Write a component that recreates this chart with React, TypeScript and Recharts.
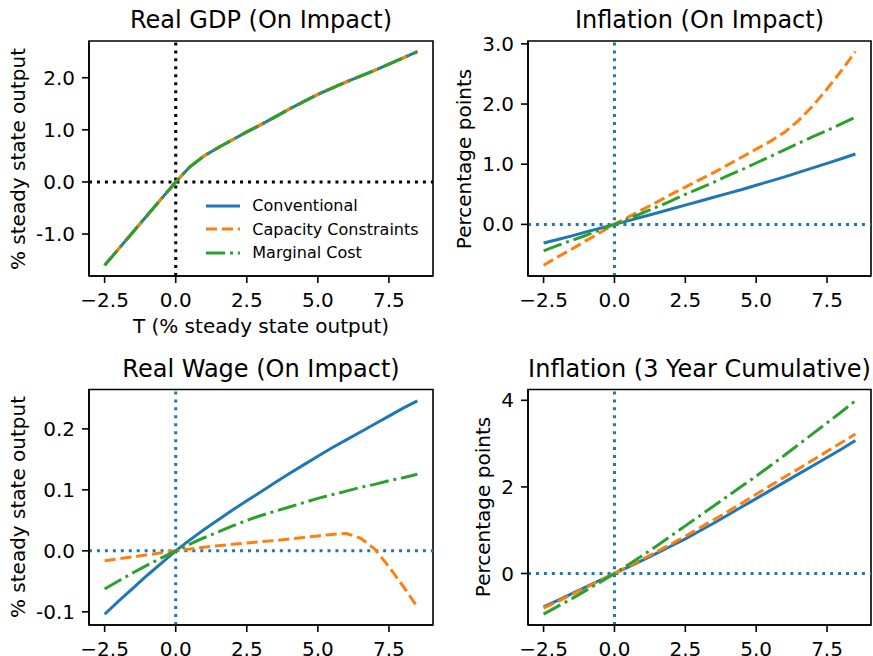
import React from "react";
import { LineChart, Line, XAxis, YAxis, ReferenceLine, ReferenceArea, Legend } from "recharts";

// T (% steady state output)
const tValues = [-2.5, -2, -1.5, -1, -0.5, 0, 0.5, 1, 1.5, 2, 2.5, 3, 3.5, 4, 4.5, 5, 5.5, 6, 6.5, 7, 7.5, 8, 8.5];

// Real GDP (on impact) - all three models coincide
const gdpConventional = [-1.6, -1.28, -0.96, -0.64, -0.32, 0, 0.29, 0.5, 0.66, 0.81, 0.96, 1.1, 1.25, 1.4, 1.54, 1.68, 1.8, 1.92, 2.03, 2.14, 2.26, 2.38, 2.5];
const gdpCapacity = [-1.6, -1.28, -0.96, -0.64, -0.32, 0, 0.29, 0.5, 0.66, 0.81, 0.96, 1.1, 1.25, 1.4, 1.54, 1.68, 1.8, 1.92, 2.03, 2.14, 2.26, 2.38, 2.5];
const gdpMarginal = [-1.6, -1.28, -0.96, -0.64, -0.32, 0, 0.29, 0.5, 0.66, 0.81, 0.96, 1.1, 1.25, 1.4, 1.54, 1.68, 1.8, 1.92, 2.03, 2.14, 2.26, 2.38, 2.5];

// Inflation (on impact)
const inflConventional = [-0.31, -0.25, -0.19, -0.125, -0.063, 0, 0.063, 0.127, 0.19, 0.255, 0.32, 0.385, 0.45, 0.515, 0.58, 0.65, 0.72, 0.79, 0.865, 0.94, 1.015, 1.09, 1.17];
const inflCapacity = [-0.68, -0.54, -0.41, -0.27, -0.135, 0, 0.125, 0.25, 0.37, 0.5, 0.62, 0.74, 0.86, 0.99, 1.12, 1.25, 1.38, 1.53, 1.73, 1.97, 2.25, 2.55, 2.87];
const inflMarginal = [-0.44, -0.35, -0.265, -0.18, -0.09, 0, 0.095, 0.19, 0.29, 0.39, 0.5, 0.6, 0.7, 0.81, 0.91, 1.02, 1.13, 1.24, 1.35, 1.46, 1.56, 1.67, 1.78];

// Real wage (on impact)
const wageConventional = [-0.104, -0.082, -0.061, -0.04, -0.02, 0, 0.018, 0.035, 0.051, 0.067, 0.082, 0.097, 0.112, 0.127, 0.141, 0.155, 0.169, 0.182, 0.195, 0.208, 0.221, 0.234, 0.246];
const wageCapacity = [-0.0163, -0.013, -0.0098, -0.0065, -0.0032, 0, 0.003, 0.006, 0.0085, 0.0108, 0.013, 0.015, 0.017, 0.0195, 0.022, 0.0245, 0.027, 0.0285, 0.021, 0.003, -0.026, -0.058, -0.092];
const wageMarginal = [-0.0625, -0.049, -0.036, -0.0235, -0.0115, 0, 0.011, 0.0215, 0.031, 0.041, 0.05, 0.058, 0.065, 0.072, 0.079, 0.086, 0.092, 0.098, 0.104, 0.109, 0.115, 0.12, 0.1255];

// Inflation (3 year cumulative)
const cumConventional = [-0.77, -0.62, -0.465, -0.31, -0.155, 0, 0.155, 0.31, 0.47, 0.635, 0.8, 0.98, 1.16, 1.35, 1.54, 1.73, 1.92, 2.11, 2.3, 2.49, 2.68, 2.87, 3.07];
const cumCapacity = [-0.8, -0.645, -0.485, -0.325, -0.163, 0, 0.165, 0.335, 0.505, 0.68, 0.86, 1.05, 1.24, 1.43, 1.63, 1.83, 2.03, 2.23, 2.42, 2.62, 2.82, 3.02, 3.22];
const cumMarginal = [-0.94, -0.76, -0.58, -0.39, -0.2, 0, 0.21, 0.42, 0.64, 0.87, 1.1, 1.33, 1.56, 1.79, 2.02, 2.25, 2.49, 2.73, 2.98, 3.23, 3.48, 3.73, 3.99];

const xTicks = [-2.5, 0, 2.5, 5, 7.5];
const gdpTicks = [-1, 0, 1, 2];
const inflTicks = [0, 1, 2, 3];
const wageTicks = [-0.1, 0, 0.1, 0.2];
const cumTicks = [0, 2, 4];

const X_DOMAIN: [number, number] = [-3.05, 9.05];

const BLUE = "#1f77b4";
const ORANGE = "#ff7f0e";
const GREEN = "#2ca02c";
const FONT = '"DejaVu Sans", sans-serif';

const seriesStyles = [
  { key: "conventional", name: "Conventional", color: BLUE, dash: undefined as string | undefined },
  { key: "capacity", name: "Capacity Constraints", color: ORANGE, dash: "11.1 4.8" },
  { key: "marginal", name: "Marginal Cost", color: GREEN, dash: "19.2 4.8 3 4.8" },
];

function buildRows(conv: number[], cap: number[], marg: number[]) {
  return tValues.map((t, i) => ({ t, conventional: conv[i], capacity: cap[i], marginal: marg[i] }));
}

const fmtX = (v: number) => (v < 0 ? "\u2212" + Math.abs(v).toFixed(1) : v.toFixed(1));
const fmt1 = (v: number) => v.toFixed(1);
const fmt0 = (v: number) => v.toFixed(0);

const renderLegend = () => (
  <div style={{ fontFamily: FONT, fontSize: 16, color: "#000" }}>
    {seriesStyles.map((s) => (
      <div key={s.key} style={{ display: "flex", alignItems: "center", height: 23.5 }}>
        <svg width={34} height={6} style={{ display: "block" }}>
          <line x1={0} x2={34} y1={3} y2={3} stroke={s.color} strokeWidth={3} strokeDasharray={s.dash} />
        </svg>
        <span style={{ marginLeft: 12.3, lineHeight: "23.5px", whiteSpace: "nowrap" }}>{s.name}</span>
      </div>
    ))}
  </div>
);

type PanelProps = {
  left: number;
  top: number;
  width: number;
  height: number;
  plot: { left: number; right: number; top: number; bottom: number };
  rows: ReturnType<typeof buildRows>;
  yDomain: [number, number];
  yTicks: number[];
  yFormat: (v: number) => string;
  refColor: string;
  title: string;
  yLabel: string;
  yLabelX: number;
  xLabel?: string;
  legend?: boolean;
};

const tickStyle = { fontSize: 20, fill: "#000", fontFamily: FONT };
const spine = { stroke: "#000", strokeWidth: 1.6 };

function Panel(p: PanelProps) {
  const margin = { top: p.plot.top, right: p.width - p.plot.right, bottom: 0, left: 0 };
  const xAxisHeight = p.height - p.plot.bottom;
  const centerX = (p.plot.left + p.plot.right) / 2;
  const centerY = (p.plot.top + p.plot.bottom) / 2;
  return (
    <div style={{ position: "absolute", left: p.left, top: p.top, width: p.width, height: p.height }}>
      <LineChart width={p.width} height={p.height} data={p.rows} margin={margin}>
        <XAxis
          type="number"
          dataKey="t"
          domain={X_DOMAIN}
          ticks={xTicks}
          interval={0}
          allowDataOverflow
          tickFormatter={fmtX}
          tick={tickStyle}
          tickLine={spine}
          axisLine={spine}
          tickSize={7}
          tickMargin={10}
          height={xAxisHeight}
        />
        <YAxis
          type="number"
          domain={p.yDomain}
          ticks={p.yTicks}
          interval={0}
          allowDataOverflow
          tickFormatter={p.yFormat}
          tick={tickStyle}
          tickLine={spine}
          axisLine={spine}
          tickSize={7}
          tickMargin={7}
          width={p.plot.left}
        />
        <ReferenceLine x={0} stroke={p.refColor} strokeWidth={3} strokeDasharray="3 4.95" />
        <ReferenceLine y={0} stroke={p.refColor} strokeWidth={3} strokeDasharray="3 4.95" />
        {seriesStyles.map((s) => (
          <Line
            key={s.key}
            type="linear"
            dataKey={s.key}
            name={s.name}
            stroke={s.color}
            strokeWidth={3}
            strokeDasharray={s.dash}
            dot={false}
            activeDot={false}
            isAnimationActive={false}
          />
        ))}
        {/* axes frame (top and right spines) */}
        <ReferenceArea
          x1={X_DOMAIN[0]}
          x2={X_DOMAIN[1]}
          y1={p.yDomain[0]}
          y2={p.yDomain[1]}
          fill="none"
          fillOpacity={0}
          stroke="#000"
          strokeWidth={1.6}
          ifOverflow="visible"
        />
        {p.legend && (
          <Legend
            layout="vertical"
            align="center"
            verticalAlign="middle"
            wrapperStyle={{ left: 206, top: 194, width: "auto" }}
            content={renderLegend}
          />
        )}
      </LineChart>
      <div
        style={{
          position: "absolute",
          left: centerX,
          top: p.plot.top - 33,
          transform: "translateX(-50%)",
          fontFamily: FONT,
          fontSize: 24,
          lineHeight: 1,
          whiteSpace: "nowrap",
          color: "#000",
        }}
      >
        {p.title}
      </div>
      <div
        style={{
          position: "absolute",
          left: p.yLabelX,
          top: centerY,
          transform: "translate(-50%, -50%) rotate(-90deg)",
          fontFamily: FONT,
          fontSize: 20,
          lineHeight: 1,
          whiteSpace: "nowrap",
          color: "#000",
        }}
      >
        {p.yLabel}
      </div>
      {p.xLabel && (
        <div
          style={{
            position: "absolute",
            left: centerX,
            top: 315.5,
            transform: "translateX(-50%)",
            fontFamily: FONT,
            fontSize: 20,
            lineHeight: 1,
            whiteSpace: "nowrap",
            color: "#000",
          }}
        >
          {p.xLabel}
        </div>
      )}
    </div>
  );
}

export default function App() {
  return (
    <div style={{ position: "absolute", left: 0, top: 0, width: 873, height: 656, background: "#fff", overflow: "hidden" }}>
      <Panel
        left={0}
        top={0}
        width={436}
        height={340}
        plot={{ left: 89, right: 433, top: 41, bottom: 276 }}
        rows={buildRows(gdpConventional, gdpCapacity, gdpMarginal)}
        yDomain={[-1.805, 2.705]}
        yTicks={gdpTicks}
        yFormat={fmt1}
        refColor="#000"
        title="Real GDP (On Impact)"
        yLabel="% steady state output"
        yLabelX={18}
        xLabel="T (% steady state output)"
        legend
      />
      <Panel
        left={436}
        top={0}
        width={437}
        height={340}
        plot={{ left: 92, right: 435, top: 41, bottom: 276 }}
        rows={buildRows(inflConventional, inflCapacity, inflMarginal)}
        yDomain={[-0.8575, 3.0475]}
        yTicks={inflTicks}
        yFormat={fmt1}
        refColor={BLUE}
        title="Inflation (On Impact)"
        yLabel="Percentage points"
        yLabelX={28}
      />
      <Panel
        left={0}
        top={340}
        width={436}
        height={316}
        plot={{ left: 89, right: 433, top: 49.5, bottom: 285 }}
        rows={buildRows(wageConventional, wageCapacity, wageMarginal)}
        yDomain={[-0.1216, 0.2646]}
        yTicks={wageTicks}
        yFormat={fmt1}
        refColor={BLUE}
        title="Real Wage (On Impact)"
        yLabel="% steady state output"
        yLabelX={18}
      />
      <Panel
        left={436}
        top={340}
        width={437}
        height={316}
        plot={{ left: 92, right: 435, top: 49.5, bottom: 285 }}
        rows={buildRows(cumConventional, cumCapacity, cumMarginal)}
        yDomain={[-1.19, 4.25]}
        yTicks={cumTicks}
        yFormat={fmt0}
        refColor={BLUE}
        title="Inflation (3 Year Cumulative)"
        yLabel="Percentage points"
        yLabelX={47}
      />
    </div>
  );
}
